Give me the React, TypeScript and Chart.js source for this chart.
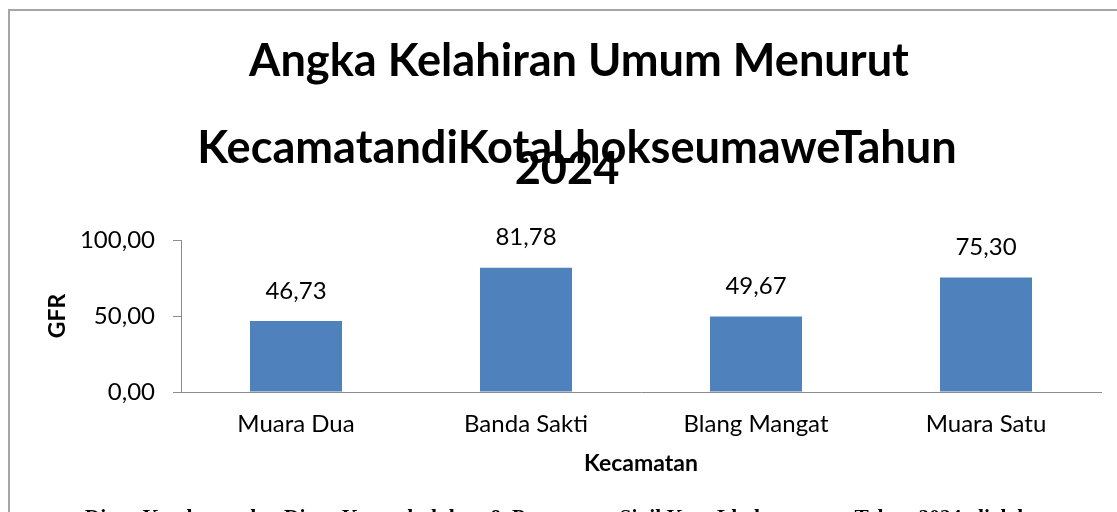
import React, { useEffect, useRef } from "react";
import { Chart, registerables } from "chart.js";

Chart.register(...registerables);

const categories = ["Muara Dua", "Banda Sakti", "Blang Mangat", "Muara Satu"];
const gfrValues = [46.73, 81.78, 49.67, 75.3];
const yTickValues = [0, 50, 100];
const titleLines = [
  "Angka Kelahiran Umum Menurut",
  "KecamatandiKotaLhokseumaweTahun",
  "2024",
];
const xAxisTitle = "Kecamatan";
const yAxisTitle = "GFR";
const sourceNote =
  "Dinas Kesehatan dan Dinas Kependudukan & Pencatatan Sipil Kota Lhokseumawe Tahun 2024, diolah";

const BAR_COLOR = "#4F81BD";
const AXIS_COLOR = "#8c8c8c";
const FONT = "Lato";

const fmt = (v: number) => Number(v).toFixed(2).replace(".", ",");

const decorPlugin = {
  id: "decor",
  beforeDraw(chart: any) {
    const ctx = chart.ctx;
    ctx.save();
    ctx.strokeStyle = "#a6a6a6";
    ctx.lineWidth = 2;
    ctx.beginPath();
    ctx.moveTo(9, 520);
    ctx.lineTo(9, 10);
    ctx.lineTo(1130, 10);
    ctx.stroke();
    ctx.restore();
  },
  afterDraw(chart: any) {
    const ctx = chart.ctx;
    ctx.save();
    ctx.fillStyle = "#000";
    ctx.textAlign = "center";
    ctx.textBaseline = "alphabetic";
    const base = 44;
    ctx.font = `bold ${base}px ${FONT}`;
    const w = ctx.measureText(titleLines[0]).width;
    const size = (base * 660) / w;
    ctx.font = `bold ${size}px ${FONT}`;
    ctx.fillText(titleLines[0], 579, 76);
    ctx.fillText(titleLines[1], 577, 163);
    ctx.fillText(titleLines[2], 567, 184);

    const fb = 20;
    ctx.font = `bold ${fb}px "Liberation Serif"`;
    const fw = ctx.measureText(sourceNote).width;
    const fsize = (fb * 945) / fw;
    ctx.font = `bold ${fsize}px "Liberation Serif"`;
    ctx.fillText(sourceNote, 557, 524);
    ctx.restore();
  },
};

const dataLabelPlugin = {
  id: "dataLabels",
  afterDatasetsDraw(chart: any) {
    const ctx = chart.ctx;
    ctx.save();
    ctx.fillStyle = "#000";
    ctx.textAlign = "center";
    ctx.textBaseline = "middle";
    ctx.font = `24px ${FONT}`;
    const meta = chart.getDatasetMeta(0);
    meta.data.forEach((bar: any, i: number) => {
      ctx.fillText(fmt(gfrValues[i]), bar.x, bar.y - 30);
    });
    ctx.restore();
  },
};

export default function App() {
  const canvasRef = useRef<HTMLCanvasElement | null>(null);

  useEffect(() => {
    if (!canvasRef.current) return;
    const chart = new Chart(canvasRef.current, {
      type: "bar",
      data: {
        labels: categories,
        datasets: [
          {
            label: yAxisTitle,
            data: gfrValues,
            backgroundColor: BAR_COLOR,
            barPercentage: 0.4,
            categoryPercentage: 1.0,
          },
        ],
      },
      options: {
        responsive: false,
        animation: false,
        layout: { padding: { left: 40, top: 240, right: 16, bottom: 30 } },
        plugins: {
          legend: { display: false },
          title: { display: false },
          tooltip: { enabled: false },
        },
        scales: {
          x: {
            grid: { display: false, drawTicks: false },
            border: { display: true, color: AXIS_COLOR, width: 1 },
            ticks: {
              font: { family: FONT, size: 24 },
              color: "#000",
              padding: 18,
              maxRotation: 0,
              autoSkip: false,
            },
            title: {
              display: true,
              text: xAxisTitle,
              color: "#000",
              font: { family: FONT, size: 23, weight: "bold" },
              padding: { top: 0, bottom: 5 },
            },
            afterFit(scale: any) {
              scale.height = 90;
              scale.paddingLeft = 0;
              scale.paddingRight = 0;
            },
          },
          y: {
            min: yTickValues[0],
            max: yTickValues[yTickValues.length - 1],
            afterBuildTicks(scale: any) {
              scale.ticks = yTickValues.map((v) => ({ value: v }));
            },
            ticks: {
              callback: (v: any) => fmt(v),
              font: { family: FONT, size: 24 },
              color: "#000",
              padding: 18,
            },
            grid: {
              drawOnChartArea: false,
              drawTicks: true,
              tickLength: 8,
              color: AXIS_COLOR,
            },
            border: { display: true, color: AXIS_COLOR, width: 1 },
            title: {
              display: true,
              text: yAxisTitle,
              color: "#000",
              font: { family: FONT, size: 23, weight: "bold" },
              padding: { top: 4, bottom: 0 },
            },
            afterFit(scale: any) {
              scale.width = 141;
              scale.paddingTop = 0;
              scale.paddingBottom = 0;
            },
          },
        },
      },
      plugins: [decorPlugin, dataLabelPlugin],
    } as any);
    return () => chart.destroy();
  }, []);

  return (
    <div style={{ position: "fixed", left: 0, top: 0, width: 1117, height: 512, overflow: "hidden" }}>
      <canvas ref={canvasRef} width={1117} height={512} style={{ display: "block" }} />
    </div>
  );
}
